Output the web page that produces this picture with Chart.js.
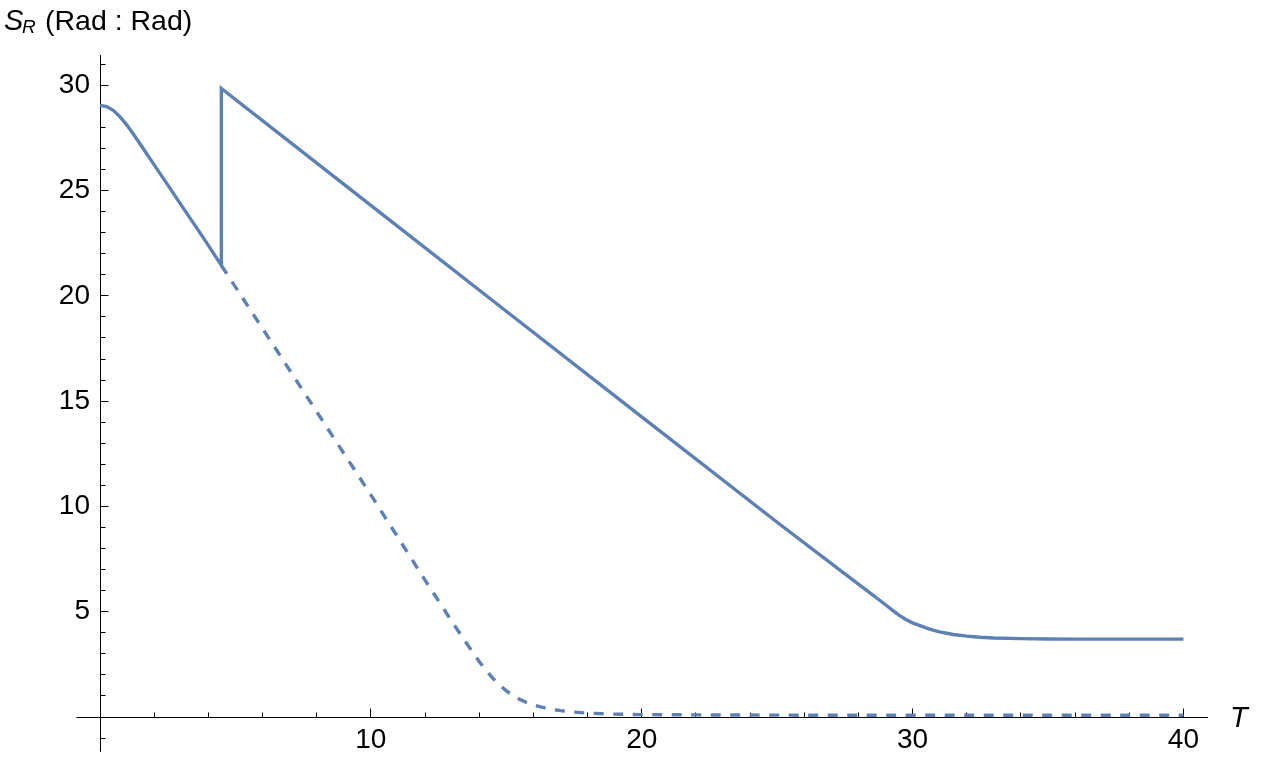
<!DOCTYPE html>
<html>
<head>
<meta charset="utf-8">
<script src="https://cdn.jsdelivr.net/npm/chart.js@4.4.0/dist/chart.umd.min.js"></script>
<style>
  html, body { margin: 0; padding: 0; background: #fff; }
</style>
</head>
<body>
<canvas id="myCanvas" width="1261" height="763"></canvas>
<script>
// solid curve (with the jump at T ~ 4.48)
const solidT = [0, 0.25, 0.5, 0.75, 1, 1.25, 1.5, 1.75, 2, 2.5, 3, 3.5, 4, 4.48,
  4.48, 10, 15, 20, 25, 27.5, 28.5, 29, 29.25, 29.5, 29.75, 30, 30.25, 30.5, 30.75, 31, 31.5, 32, 32.5, 33, 34, 35, 36, 40]
const solidS = [29.05, 28.99, 28.8, 28.49, 28.1, 27.65, 27.18, 26.7, 26.22, 25.27, 24.31, 23.36, 22.4, 21.45,
  29.85, 24.3, 19.27, 14.25, 9.25, 6.8, 5.82, 5.33, 5.08, 4.84, 4.635, 4.47, 4.35, 4.23, 4.13, 4.04, 3.92, 3.84, 3.79, 3.755, 3.72, 3.705, 3.7, 3.7]

// dashed curve (continuation without the jump)
const dashedT = [4.48, 6, 8, 10, 12, 13, 13.5, 13.75, 14, 14.25, 14.5, 14.75, 15, 15.25, 15.5, 15.75, 16, 16.5, 17, 17.5, 18, 19, 20, 22, 26, 40]
const dashedS = [21.45, 18.45, 14.5, 10.55, 6.5, 4.52, 3.56, 3.09, 2.64, 2.22, 1.845, 1.52, 1.245, 1.02, 0.835, 0.69, 0.575, 0.41, 0.3, 0.23, 0.185, 0.135, 0.115, 0.1, 0.085, 0.08]

const xTickLabels = [10, 20, 30, 40]
const yTickLabels = [5, 10, 15, 20, 25, 30]

const lineColor = "#5E81B5"
const fontFamily = "'Liberation Sans', Arial, sans-serif"

const toPoints = (xs, ys) => xs.map((v, i) => ({ x: v, y: ys[i] }))
const align = (px) => Math.round(px - 0.5) + 0.5

// axis stubs past zero, inward tick marks, axis labels
const axisDecor = {
  id: "axisDecor",
  beforeDatasetsDraw(chart) {
    const { ctx, scales: { x, y } } = chart
    const ax = align(x.getPixelForValue(0))
    const ay = align(y.getPixelForValue(0))
    ctx.save()
    ctx.strokeStyle = "#000"
    ctx.lineWidth = 1
    ctx.beginPath()
    ctx.moveTo(x.getPixelForValue(-0.87), ay)
    ctx.lineTo(ax, ay)
    ctx.moveTo(ax, ay)
    ctx.lineTo(ax, y.getPixelForValue(-1.65))
    for (let v = 2; v <= 40; v += 2) {
      const px = align(x.getPixelForValue(v))
      const len = v % 10 === 0 ? 9 : 5
      ctx.moveTo(px, ay)
      ctx.lineTo(px, ay - len)
    }
    for (let v = -1; v <= 31; v++) {
      if (v === 0) continue
      const py = align(y.getPixelForValue(v))
      const len = v % 5 === 0 ? 8 : 5
      ctx.moveTo(ax, py)
      ctx.lineTo(ax + len, py)
    }
    ctx.stroke()
    ctx.restore()
  },
  afterDraw(chart) {
    const { ctx, chartArea } = chart
    const ay = chart.scales.y.getPixelForValue(0)
    ctx.save()
    ctx.fillStyle = "#000"
    ctx.textBaseline = "alphabetic"
    // y axis label
    ctx.font = "italic 29px " + fontFamily
    ctx.fillText("S", 4, 30)
    ctx.font = "italic 19px " + fontFamily
    ctx.fillText("R", 22, 33)
    ctx.font = "28.5px " + fontFamily
    ctx.fillText("(Rad : Rad)", 45, 30)
    // x axis label
    ctx.font = "italic 29px " + fontFamily
    ctx.fillText("T", chartArea.right + 23, ay + 10)
    ctx.restore()
  }
}

const ctx = document.getElementById("myCanvas").getContext("2d")

new Chart(ctx, {
  type: "scatter",
  data: {
    datasets: [
      {
        label: "S_R",
        data: toPoints(solidT, solidS),
        showLine: true,
        borderColor: lineColor,
        borderWidth: 3.4,
        borderJoinStyle: "miter",
        pointRadius: 0,
        tension: 0,
        clip: false,
      },
      {
        label: "S_R (no jump)",
        data: toPoints(dashedT, dashedS),
        showLine: true,
        borderColor: lineColor,
        borderWidth: 3.4,
        borderDash: [10, 9.5],
        borderCapStyle: "butt",
        pointRadius: 0,
        tension: 0,
        clip: false,
      },
    ],
  },
  options: {
    responsive: false,
    animation: false,
    layout: { padding: { left: 40, right: 54, top: 55, bottom: 11 } },
    plugins: { legend: { display: false }, tooltip: { enabled: false } },
    scales: {
      x: {
        type: "linear",
        position: "bottom",
        min: 0,
        max: 40.87,
        afterBuildTicks: (s) => { s.ticks = xTickLabels.map((v) => ({ value: v })) },
        afterFit: (s) => { s.height = 35; s.paddingLeft = 0; s.paddingRight = 0 },
        grid: { display: true, drawOnChartArea: false, drawTicks: false },
        border: { display: true, color: "#000", width: 1 },
        ticks: { color: "#000", padding: 6, maxRotation: 0, font: { family: fontFamily, size: 28 } },
      },
      y: {
        type: "linear",
        position: "left",
        min: 0,
        max: 31.44,
        afterBuildTicks: (s) => { s.ticks = yTickLabels.map((v) => ({ value: v })) },
        afterFit: (s) => { s.width = 60; s.paddingTop = 0; s.paddingBottom = 0 },
        grid: { display: true, drawOnChartArea: false, drawTicks: false },
        border: { display: true, color: "#000", width: 1 },
        ticks: { color: "#000", padding: 10, font: { family: fontFamily, size: 28 } },
      },
    },
  },
  plugins: [axisDecor],
})
</script>
</body>
</html>
